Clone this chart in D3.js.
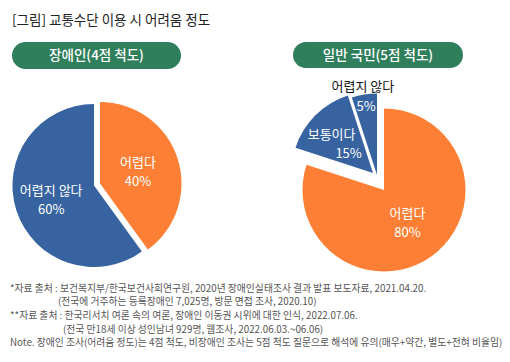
<!DOCTYPE html>
<html><head><meta charset="utf-8">
<script src="https://cdn.jsdelivr.net/npm/d3@7"></script>
<style>
html,body{margin:0;padding:0;background:#fff;}
svg{display:block;font-family:"Noto Sans CJK KR","Noto Sans",sans-serif;}
</style></head>
<body><svg id="c" width="510" height="362"></svg>
<script>
// ---- data ----
const titleText = "[그림] 교통수단 이용 시 어려움 정도";
const leftTitle = "장애인(4점 척도)";
const rightTitle = "일반 국민(5점 척도)";
const leftCategories = ["어렵다", "어렵지 않다"];
const leftValues = [40, 60];
const rightCategories = ["어렵다", "보통이다", "어렵지 않다"];
const rightValues = [80, 15, 5];
const notes = [
  "*자료 출처 : 보건복지부/한국보건사회연구원, 2020년 장애인실태조사 결과 발표 보도자료, 2021.04.20.",
  "(전국에 거주하는 등록장애인 7,025명, 방문 면접 조사, 2020.10)",
  "**자료 출처 : 한국리서치 여론 속의 여론, 장애인 이동권 시위에 대한 인식, 2022.07.06.",
  "(전국 만18세 이상 성인남녀 929명, 웹조사, 2022.06.03.~06.06)",
  "Note. 장애인 조사(어려움 정도)는 4점 척도, 비장애인 조사는 5점 척도 질문으로 해석에 유의(매우+약간, 별도+전혀 비율임)"
];

// ---- style ----
const ORANGE = "#fd7f35", BLUE = "#3763a0", GREEN = "#2f7f5c";
const svg = d3.select("#c");
const R = 81.5;

svg.append("text").attr("x", 12).attr("y", 25).attr("font-size", 13.5)
  .attr("fill", "#222").text(titleText);

function badge(x0, x1, y0, h, label) {
  svg.append("rect").attr("x", x0).attr("y", y0).attr("width", x1 - x0).attr("height", h)
    .attr("rx", h / 2).attr("fill", GREEN);
  svg.append("text").attr("x", (x0 + x1) / 2).attr("y", y0 + h / 2 + 4.8)
    .attr("text-anchor", "middle").attr("fill", "#fff").attr("font-size", 13.5)
    .attr("font-weight", 500).text(label);
}
badge(12, 181, 42, 27, leftTitle);
badge(293, 463, 42, 26, rightTitle);

function drawPie(cx, cy, cats, vals, colors, offsets, labelCfg) {
  const pie = d3.pie().sort(null).value(d => d)(vals);
  const arc = d3.arc().innerRadius(0).outerRadius(R);
  const g = svg.append("g").attr("transform", `translate(${cx},${cy})`);
  pie.forEach((p, i) => {
    const [dx, dy] = offsets[i];
    const sg = g.append("g").attr("transform", `translate(${dx},${dy})`);
    sg.append("path").attr("d", arc(p)).attr("fill", colors[i]);
    const cfg = labelCfg[i];
    const mid = (p.startAngle + p.endAngle) / 2;
    const lx = Math.sin(mid) * cfg.r, ly = -Math.cos(mid) * cfg.r;
    const pct = vals[i] + "%";
    if (cfg.outside) {
      sg.append("text").attr("x", lx).attr("y", ly + 5).attr("text-anchor", "middle")
        .attr("font-size", 13).attr("fill", "#111").text(cats[i]);
      sg.append("text").attr("x", Math.sin(mid) * cfg.r2).attr("y", -Math.cos(mid) * cfg.r2 + 5)
        .attr("text-anchor", "middle").attr("font-size", 13).attr("fill", "#fff").text(pct);
    } else {
      sg.append("text").attr("x", lx + (cfg.dx1 || 0)).attr("y", ly - 4).attr("text-anchor", "middle")
        .attr("font-size", 13).attr("fill", "#fff").text(cats[i]);
      sg.append("text").attr("x", lx + (cfg.dx2 || 0)).attr("y", ly + 15).attr("text-anchor", "middle")
        .attr("font-size", 13).attr("fill", "#fff").text(pct);
    }
  });
}

drawPie(94, 185.5, leftCategories, leftValues, [ORANGE, BLUE],
  [[6, -2], [0, 0]],
  [{r: 40}, {r: 45}]);

drawPie(384, 190, rightCategories, rightValues, [ORANGE, BLUE, BLUE],
  [[0, 0], [-11, -17], [-7, -15]],
  [{r: 40}, {r: 43, dx1: -11, dx2: 6}, {outside: true, r: 90, r2: 70}]);

const noteX = [10, 58, 10, 63, 10];
const noteY = [292, 305, 319, 333, 346];
notes.forEach((t, i) => {
  svg.append("text").attr("x", noteX[i]).attr("y", noteY[i]).attr("font-size", 9.8)
    .attr("fill", "#555").text(t);
});
</script></body></html>
